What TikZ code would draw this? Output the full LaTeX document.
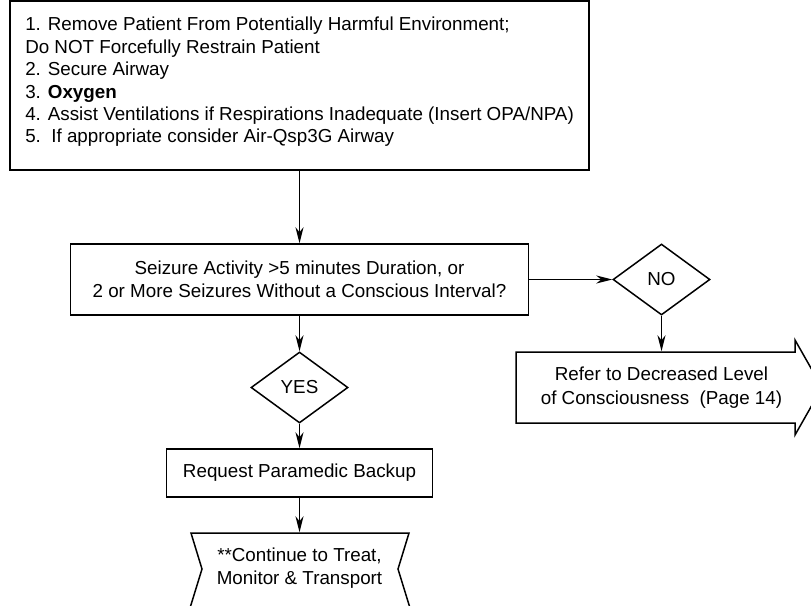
\documentclass[tikz,border=0pt]{standalone}
\usepackage{fontspec}
\setmainfont{Liberation Sans}
\usetikzlibrary{shapes.geometric,arrows.meta}
\begin{document}
\begin{tikzpicture}[x=1pt,y=-1pt, line width=1.5pt,
  txt/.style={font=\fontsize{18.8}{23.5}\selectfont, inner sep=0pt, align=center},
  boxnode/.style={txt, draw, rectangle},
  decision/.style={txt, draw, diamond, minimum width=97pt, minimum height=71pt},
  arr/.style={-{Stealth[length=16pt,width=8pt,inset=5pt]}}]
\useasboundingbox (0,0) rectangle (811,605);
\clip (0,0) rectangle (811,605);
% top box
\node[boxnode, minimum width=579pt, minimum height=169pt] (steps) at (299.5,85.5) {};
\node[txt, font=\fontsize{18.8}{22.4}\selectfont, align=left, anchor=north west] (stepstext) at (24.5,16.5)
  {1. Remove Patient From Potentially Harmful Environment;\\
   Do NOT Forcefully Restrain Patient\\
   2. Secure Airway\\
   3. \textbf{Oxygen}\\
   4. Assist Ventilations if Respirations Inadequate (Insert OPA/NPA)\\
   5.\ \ If appropriate consider Air-Qsp3G Airway};
% question
\node[boxnode, minimum width=458pt, minimum height=71pt] (seizure) at (299.5,279.5)
  {Seizure Activity >5 minutes Duration, or\\2 or More Seizures Without a Conscious Interval?};
\node[decision] (no) at (661.5,279.5) {NO};
\node[decision] (yes) at (299.5,387.5) {YES};
\node[boxnode, minimum width=266pt, minimum height=48pt] (backup) at (299.5,473) {Request Paramedic Backup};
% refer (off-page arrow shape)
\node[txt, minimum width=250pt, minimum height=71pt] (refer) at (661.5,387.5)
  {Refer to Decreased Level\\of Consciousness\ \ (Page 14)};
\draw (516,352) -- (795,352) -- (795,340) -- (822,387.5) -- (795,435) -- (795,423) -- (516,423) -- cycle;
% continue shape
\node[txt, minimum width=180pt, minimum height=70pt] (cont) at (299.5,568)
  {**Continue to Treat,\\Monitor \& Transport};
\draw (191,533) -- (409,533) -- (398,569) -- (410,608) -- (190,608) -- (202,569) -- cycle;
% connectors
\draw[arr] (steps.south) -- (seizure.north);
\draw[arr] (seizure.east) -- (no.west);
\draw[arr] (no.south) -- (refer.north);
\draw[arr] (seizure.south) -- (yes.north);
\draw[arr] (yes.south) -- (backup.north);
\draw[arr] (backup.south) -- (cont.north);
\end{tikzpicture}
\end{document}
